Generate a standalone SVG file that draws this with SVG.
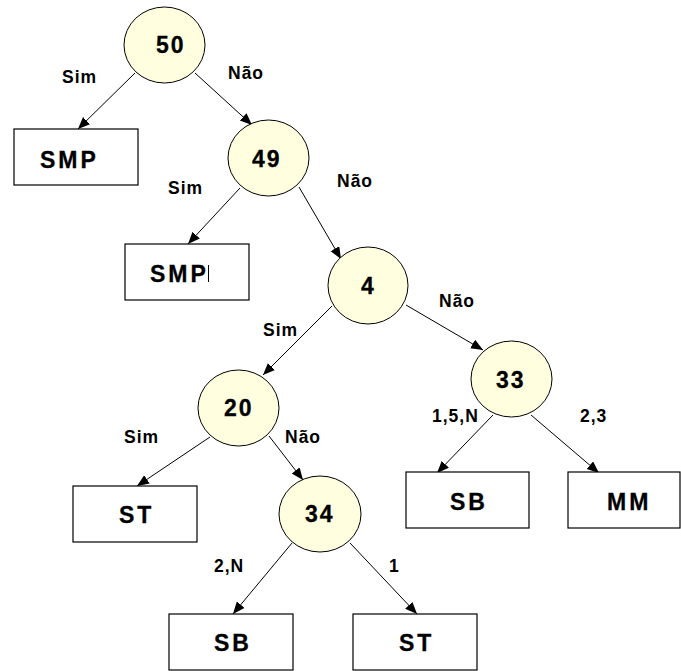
<svg xmlns="http://www.w3.org/2000/svg" width="681" height="671" viewBox="0 0 681 671">
<defs>
<marker id="arr" markerUnits="userSpaceOnUse" markerWidth="13" markerHeight="11" refX="12" refY="5" orient="auto">
<path d="M0,0 L12,5 L0,10 z" fill="#000"/>
</marker>
<style>
.node ellipse{fill:#FFFFE0;stroke:#000;stroke-width:1}
.leaf rect{fill:#fff;stroke:#000;stroke-width:1.2}
.nt{font-family:"Liberation Sans",Arial,sans-serif;font-weight:bold;font-size:23px;letter-spacing:2px;fill:#000;stroke:#000;stroke-width:0.3}
.leaf .nt{letter-spacing:3px}
.lt{font-family:"Liberation Sans",Arial,sans-serif;font-weight:bold;font-size:17.5px;letter-spacing:1px;fill:#000}
#edges line{stroke:#000;stroke-width:1;marker-end:url(#arr)}
</style>
</defs>
<rect width="681" height="671" fill="#fff"/>
<g id="edges">
<line x1="135" y1="73" x2="78" y2="129"/>
<line x1="195" y1="73" x2="252" y2="125"/>
<line x1="240" y1="188" x2="188" y2="244"/>
<line x1="299" y1="187" x2="341" y2="259"/>
<line x1="332" y1="306" x2="263" y2="375"/>
<line x1="406" y1="305" x2="483" y2="350"/>
<line x1="493" y1="415" x2="437" y2="473"/>
<line x1="531" y1="415" x2="599" y2="473"/>
<line x1="210" y1="437" x2="137" y2="486"/>
<line x1="269" y1="436" x2="303" y2="480"/>
<line x1="292" y1="543" x2="233" y2="614"/>
<line x1="350" y1="543" x2="417" y2="614"/>
</g>
<g id="edge-labels">
<text class="lt" x="62" y="83">Sim</text>
<text class="lt" x="228" y="79">Não</text>
<text class="lt" x="168" y="194">Sim</text>
<text class="lt" x="337" y="187">Não</text>
<text class="lt" x="263" y="336">Sim</text>
<text class="lt" x="439" y="307">Não</text>
<text class="lt" x="124" y="443">Sim</text>
<text class="lt" x="285" y="443">Não</text>
<text class="lt" x="432" y="422">1,5,N</text>
<text class="lt" x="580" y="422">2,3</text>
<text class="lt" x="214" y="572">2,N</text>
<text class="lt" x="389" y="572">1</text>
</g>
<g id="n50" class="node"><ellipse cx="164.5" cy="45" rx="40.5" ry="38"/><text class="nt" x="156" y="53">50</text></g>
<g id="n49" class="node"><ellipse cx="268.5" cy="158" rx="40.5" ry="38"/><text class="nt" x="252" y="167">49</text></g>
<g id="n4" class="node"><ellipse cx="368" cy="285.5" rx="40" ry="38.5"/><text class="nt" x="361" y="294">4</text></g>
<g id="n33" class="node"><ellipse cx="511.5" cy="379" rx="40.5" ry="38"/><text class="nt" x="496" y="388">33</text></g>
<g id="n20" class="node"><ellipse cx="238.5" cy="408" rx="40.5" ry="38"/><text class="nt" x="224" y="416">20</text></g>
<g id="n34" class="node"><ellipse cx="320" cy="514" rx="41" ry="38"/><text class="nt" x="305" y="522">34</text></g>
<g id="smp1" class="leaf"><rect x="14" y="129" width="124" height="56"/><text class="nt" x="40" y="168">SMP</text></g>
<g id="smp2" class="leaf"><rect x="125" y="244" width="124" height="56"/><text class="nt" x="150" y="282">SMP</text><line x1="208.5" y1="265" x2="208.5" y2="282" stroke="#000" stroke-width="1"/></g>
<g id="sb1" class="leaf"><rect x="406" y="472" width="123" height="56"/><text class="nt" x="450" y="510">SB</text></g>
<g id="mm" class="leaf"><rect x="568" y="472" width="112" height="56"/><text class="nt" x="607" y="510">MM</text></g>
<g id="st1" class="leaf"><rect x="73" y="486" width="124" height="56"/><text class="nt" x="119" y="523">ST</text></g>
<g id="sb2" class="leaf"><rect x="169" y="614" width="124" height="56"/><text class="nt" x="214" y="651">SB</text></g>
<g id="st2" class="leaf"><rect x="353" y="614" width="124" height="56"/><text class="nt" x="399" y="651">ST</text></g>
</svg>
